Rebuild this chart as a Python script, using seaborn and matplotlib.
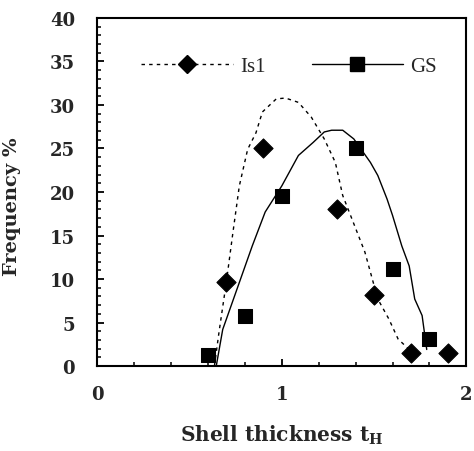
import numpy as np
import pandas as pd
import matplotlib
matplotlib.use("Agg")
import matplotlib.pyplot as plt
from matplotlib.lines import Line2D
from matplotlib.ticker import MultipleLocator
import seaborn as sns

# measured points
is1_x = [0.7, 0.9, 1.3, 1.5, 1.7, 1.9]
is1_y = [9.7, 25.0, 18.1, 8.2, 1.5, 1.5]
gs_x = [0.6, 0.8, 1.0, 1.4, 1.6, 1.8]
gs_y = [1.3, 5.7, 19.5, 25.0, 11.1, 3.1]

# fitted curves
is1_fit_x = [0.635, 0.66, 0.70, 0.735, 0.77, 0.815, 0.86, 0.895, 0.97, 1.02,
             1.09, 1.16, 1.23, 1.29, 1.33, 1.38, 1.45, 1.52, 1.58, 1.63, 1.69]
is1_fit_y = [0.0, 3.9, 9.7, 15.3, 20.7, 24.9, 26.8, 29.2, 30.7, 30.8,
             30.3, 28.6, 26.1, 23.4, 19.6, 16.9, 13.1, 7.7, 5.4, 3.1, 1.9]
gs_fit_x = [0.645, 0.68, 0.75, 0.84, 0.91, 1.0, 1.09, 1.17, 1.23, 1.27, 1.33,
            1.39, 1.48, 1.52, 1.57, 1.60, 1.65, 1.69, 1.72, 1.76, 1.785]
gs_fit_y = [0.0, 4.2, 8.4, 13.8, 17.7, 20.7, 24.2, 25.7, 26.9, 27.1, 27.1,
            26.1, 23.4, 21.9, 19.2, 17.3, 13.8, 11.5, 7.7, 5.8, 1.9]

sns.set_style("white")
plt.rcParams["font.family"] = ["DejaVu Serif"]
plt.rcParams["mathtext.fontset"] = "dejavuserif"

fig = plt.figure(figsize=(4.74, 4.52), dpi=100)
ax = fig.add_axes([0.205, 0.188, 0.779, 0.77])

sns.lineplot(x=is1_fit_x, y=is1_fit_y, ax=ax, color="black", lw=1.0,
             linestyle=(0, (2.5, 3)), sort=False)
sns.lineplot(x=gs_fit_x, y=gs_fit_y, ax=ax, color="black", lw=1.0, sort=False)
sns.scatterplot(x=is1_x, y=is1_y, ax=ax, marker="D", s=95, color="black",
                edgecolor="black", zorder=5)
sns.scatterplot(x=gs_x, y=gs_y, ax=ax, marker="s", s=90, color="black",
                edgecolor="black", zorder=5)

ax.set_xlim(0, 2)
ax.set_ylim(0, 40)
ax.xaxis.set_major_locator(MultipleLocator(1))
ax.xaxis.set_minor_locator(MultipleLocator(0.2))
ax.yaxis.set_major_locator(MultipleLocator(5))
ax.yaxis.set_minor_locator(MultipleLocator(1))
ax.tick_params(which="both", direction="in", bottom=True, left=True,
               top=False, right=False, color="black")
ax.tick_params(which="major", length=5, width=1.3)
ax.tick_params(which="minor", length=3, width=1.1)
ax.tick_params(axis="x", pad=14)
ax.tick_params(axis="y", pad=16)
for lab in ax.get_xticklabels() + ax.get_yticklabels():
    lab.set_fontweight("bold")
    lab.set_fontsize(13)
for sp in ax.spines.values():
    sp.set_color("black")
    sp.set_linewidth(1.5)

ax.set_xlabel("Shell thickness t$_\\mathbf{H}$", fontsize=14.5, fontweight="bold",
              labelpad=14)
ax.set_ylabel("Frequency %", fontsize=14, fontweight="bold")
ax.yaxis.set_label_coords(-0.205, 0.46)

handles = [
    Line2D([], [], color="black", lw=1.0, linestyle=(0, (2.5, 3)), marker="D",
           markersize=9),
    Line2D([], [], color="black", lw=1.0, marker="s", markersize=9.5),
]
ax.legend(handles, ["Is1", "GS"], ncol=2, frameon=False, loc="center",
          bbox_to_anchor=(0.52, 0.862), handlelength=4.4, columnspacing=2.2,
          handletextpad=0.35, numpoints=1, borderpad=0,
          prop={"family": "Liberation Serif", "size": 15})

fig.savefig("out.png", dpi=100)
